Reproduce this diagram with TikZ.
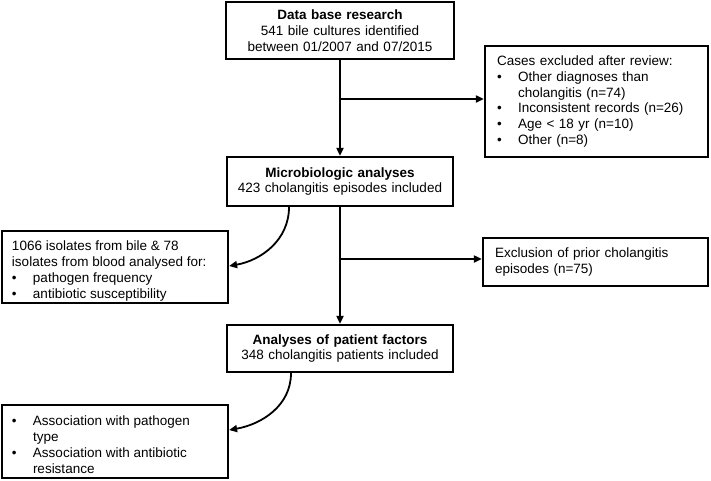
\documentclass[tikz,border=0pt]{standalone}
\usepackage{fontspec}
\setmainfont{Liberation Sans}
\usetikzlibrary{arrows.meta,calc}
\tikzset{
  x=1pt,y=-1pt,
  box/.style={draw=black,line width=2.2pt,fill=white,inner ysep=0pt,
    font=\fontsize{13.5}{15.8}\selectfont},
  cbox/.style={box,align=center,inner xsep=4pt},
  lbox/.style={box,align=left},
  conn/.style={line width=1.8pt,-{Triangle[length=8pt,width=7pt]}}
}
\newcommand{\bul}{\makebox[21pt][l]{\textbullet}}
\newcommand{\ind}{\hspace*{21pt}}
\newcommand{\lowtext}[3]{\raisebox{#1}[\height][\depth]{\parbox{#2}{#3}}}
\begin{document}
\begin{tikzpicture}
\useasboundingbox (0,0) rectangle (711,480);
\node[cbox,text width=220pt,minimum height=57pt] (b1) at (340,30.5)
  {\textbf{Data base research}\\541 bile cultures identified\\between 01/2007 and 07/2015};
\node[cbox,text width=218pt,minimum height=49pt] (b2) at (340,181.5)
  {\textbf{Microbiologic analyses}\\423 cholangitis episodes included};
\node[lbox,inner xsep=12pt,text width=199pt,minimum height=111pt] (b3) at (596.5,101.5)
  {Cases excluded after review:\\
   \bul Other diagnoses than\\
   \ind cholangitis (n=74)\\
   \bul Inconsistent records (n=26)\\
   \bul Age < 18 yr (n=10)\\
   \bul Other (n=8)};
\node[box,inner xsep=10pt,minimum height=72pt] (b4) at (115,267)
  {\lowtext{-4pt}{206pt}{1066 isolates from bile \& 78\\
   isolates from blood analysed for:\\
   \bul pathogen frequency\\
   \bul antibiotic susceptibility}};
\node[lbox,inner xsep=12pt,text width=201pt,minimum height=48pt] (b5) at (595.5,262)
  {Exclusion of prior cholangitis\\episodes (n=75)};
\node[cbox,text width=218pt,minimum height=47pt] (b6) at (340,348.5)
  {\textbf{Analyses of patient factors}\\348 cholangitis patients included};
\node[box,inner xsep=10pt,minimum height=73pt] (b7) at (115,441.5)
  {\lowtext{-3pt}{206pt}{\bul Association with pathogen\\
   \ind type\\
   \bul Association with antibiotic\\
   \ind resistance}};
\coordinate (j1) at (340,99);
\coordinate (j2) at (340,259);
\draw[conn] (b1.south) -- (b2.north);
\draw[conn] (j1) -- (j1 -| b3.west);
\draw[conn] (b2.south) -- (b6.north);
\draw[conn] (j2) -- (j2 -| b5.west);
\draw[conn] ([xshift=-51pt]b2.south) to[out=-90,in=10] ([yshift=1pt]b4.east);
\draw[conn] ([xshift=-49pt]b6.south) to[out=-90,in=10] ([yshift=11.5pt]b7.east);
\end{tikzpicture}
\end{document}
